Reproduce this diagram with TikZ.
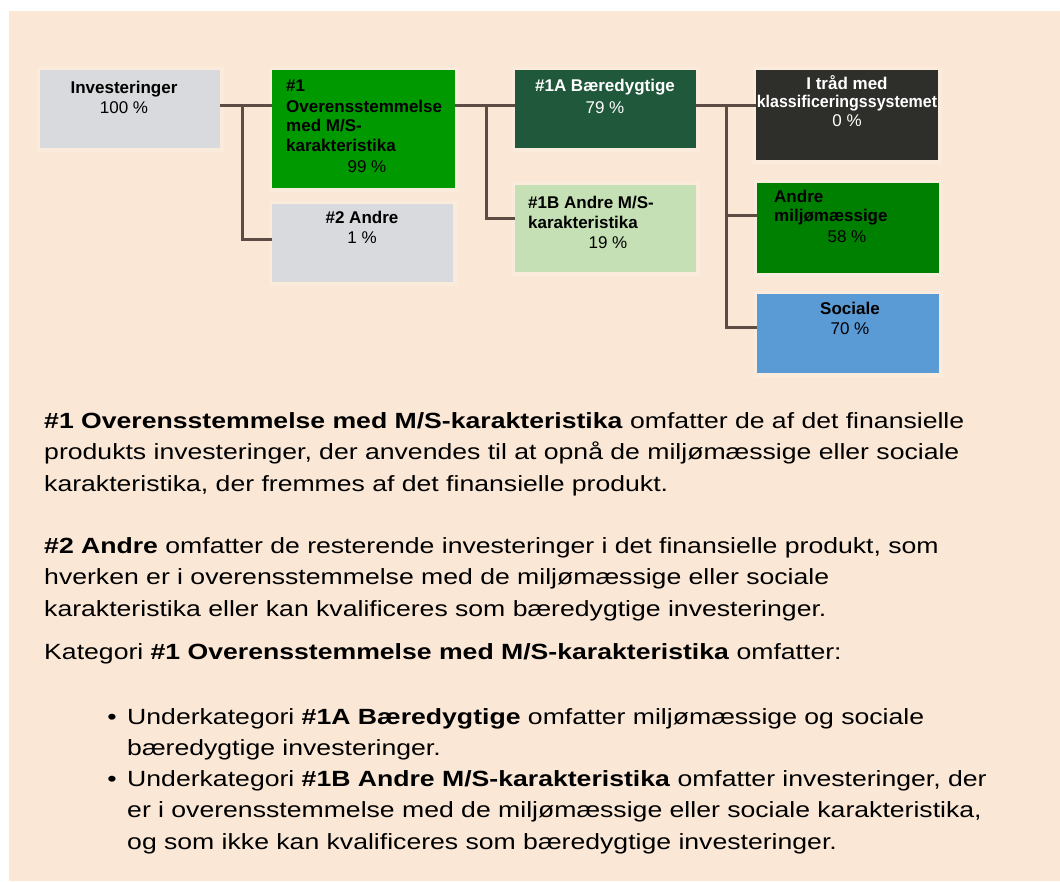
\documentclass[tikz,border=0pt]{standalone}
\usepackage{fontspec}
\setmainfont{Liberation Sans}
\newfontfamily\parafont{Liberation Sans}[FakeStretch=1.21]
\usetikzlibrary{calc}
\definecolor{bgc}{RGB}{250,231,214}
\definecolor{greyb}{RGB}{217,218,222}
\definecolor{green1}{RGB}{0,153,0}
\definecolor{dgreen}{RGB}{32,88,60}
\definecolor{lgreen}{RGB}{197,224,180}
\definecolor{darkb}{RGB}{46,47,42}
\definecolor{green2}{RGB}{0,128,0}
\definecolor{blueb}{RGB}{91,155,213}
\definecolor{connc}{RGB}{92,76,67}
\begin{document}
\begin{tikzpicture}[x=1pt,y=-1pt,
  box/.style={draw=none, inner sep=0pt, outer sep=0pt, anchor=north west,
    preaction={draw=white, draw opacity=0.18, line width=7pt}},
  conn/.style={draw=connc, line width=3pt},
  lbl/.style={inner sep=0pt, anchor=base, font=\fontsize{17}{20}\selectfont},
  lblw/.style={lbl, anchor=base west},
  para/.style={inner sep=0pt, anchor=base west, text width=1000pt,
    align=left, font=\parafont\fontsize{22}{31.5}\selectfont},
  bul/.style={inner sep=0pt, anchor=base, font=\parafont\fontsize{22}{31.5}\selectfont}]
\useasboundingbox (0,0) rectangle (1060,881);
\fill[white] (0,0) rectangle (1060,881);
\fill[bgc] (9,11) rectangle (1060,881);

% boxes
\node[box, fill=greyb,  minimum width=180pt, minimum height=78pt]  (inv)   at (40,70) {};
\node[box, fill=green1, minimum width=183pt, minimum height=118pt] (b1)    at (272,70) {};
\node[box, fill=greyb,  minimum width=181pt, minimum height=78pt]  (b2)    at (272,204) {};
\node[box, fill=dgreen, minimum width=181pt, minimum height=78pt]  (b1a)   at (515,70) {};
\node[box, fill=lgreen, minimum width=181pt, minimum height=87pt]  (b1b)   at (515,185) {};
\node[box, fill=darkb,  minimum width=182pt, minimum height=90pt]  (itrad) at (756,70) {};
\node[box, fill=green2, minimum width=182pt, minimum height=90pt]  (andre) at (757,183) {};
\node[box, fill=blueb,  minimum width=182pt, minimum height=79pt]  (soc)   at (757,294) {};

% junctions
\coordinate (j1) at (242,105);
\coordinate (j1b) at (242,239);
\coordinate (j2) at (486,105);
\coordinate (j2b) at (486,218);
\coordinate (j3) at (726,105);
\coordinate (j3b) at (726,215);
\coordinate (j3c) at (726,327);

% connectors
\draw[conn] (inv.east |- j1) -- (b1.west |- j1);
\draw[conn] (j1) -- (j1b) -- (b2.west |- j1b);
\draw[conn] (b1.east |- j2) -- (b1a.west |- j2);
\draw[conn] (j2) -- (j2b) -- (b1b.west |- j2b);
\draw[conn] (b1a.east |- j3) -- (itrad.west |- j3);
\draw[conn] (j3) -- (j3c) -- (soc.west |- j3c);
\draw[conn] (j3b) -- (andre.west |- j3b);

% box labels
\node[lbl] (tinv1) at (124,93) {\textbf{Investeringer}};
\node[lbl] (tinv2) at (124,113) {100 \%};

\node[lblw] (tb11) at (286,91) {\textbf{\#1}};
\node[lblw] (tb12) at (286,112) {\textbf{Overensstemmelse}};
\node[lblw] (tb13) at (286,131) {\textbf{med M/S-}};
\node[lblw] (tb14) at (286,151) {\textbf{karakteristika}};
\node[lbl]  (tb15) at (367,172) {99 \%};

\node[lbl] (tb21) at (362,223) {\textbf{\#2 Andre}};
\node[lbl] (tb22) at (362,243) {1 \%};

\node[lbl, text=white] (ta1) at (605,91) {\textbf{\#1A Bæredygtige}};
\node[lbl, text=white] (ta2) at (605,113) {79 \%};

\node[lblw] (tbb1) at (528,208) {\textbf{\#1B Andre M/S-}};
\node[lblw] (tbb2) at (528,228) {\textbf{karakteristika}};
\node[lbl]  (tbb3) at (608,248) {19 \%};

\node[lbl, text=white] (ti1) at (847,89) {\textbf{I tråd med}};
\node[lbl, text=white] (ti2) at (847,107) {\scalebox{0.94}[1]{\textbf{klassificeringssystemet}}};
\node[lbl, text=white] (ti3) at (847,126) {0 \%};

\node[lblw] (tm1) at (774,202) {\textbf{Andre}};
\node[lblw] (tm2) at (774,221) {\textbf{miljømæssige}};
\node[lbl]  (tm3) at (847,242) {58 \%};

\node[lbl] (ts1) at (850,314) {\textbf{Sociale}};
\node[lbl] (ts2) at (850,334) {70 \%};

% paragraphs
\node[para] (p1) at (44,428) {\textbf{\#1 Overensstemmelse med M/S-karakteristika} omfatter de af det finansielle\\
produkts investeringer, der anvendes til at opnå de miljømæssige eller sociale\\
karakteristika, der fremmes af det finansielle produkt.};

\node[para] (p2) at (44,553) {\textbf{\#2 Andre} omfatter de resterende investeringer i det finansielle produkt, som\\
hverken er i overensstemmelse med de miljømæssige eller sociale\\
karakteristika eller kan kvalificeres som bæredygtige investeringer.};

\node[para] (p3) at (44,659) {Kategori \textbf{\#1 Overensstemmelse med M/S-karakteristika} omfatter:};

\node[bul] (bul1) at (112,724) {•};
\node[para] (p4) at (127,724) {Underkategori \textbf{\#1A Bæredygtige} omfatter miljømæssige og sociale\\
bæredygtige investeringer.};
\node[bul] (bul2) at (112,786) {•};
\node[para] (p5) at (127,786) {Underkategori \textbf{\#1B Andre M/S-karakteristika} omfatter investeringer, der\\
er i overensstemmelse med de miljømæssige eller sociale karakteristika,\\
og som ikke kan kvalificeres som bæredygtige investeringer.};
\end{tikzpicture}
\end{document}
